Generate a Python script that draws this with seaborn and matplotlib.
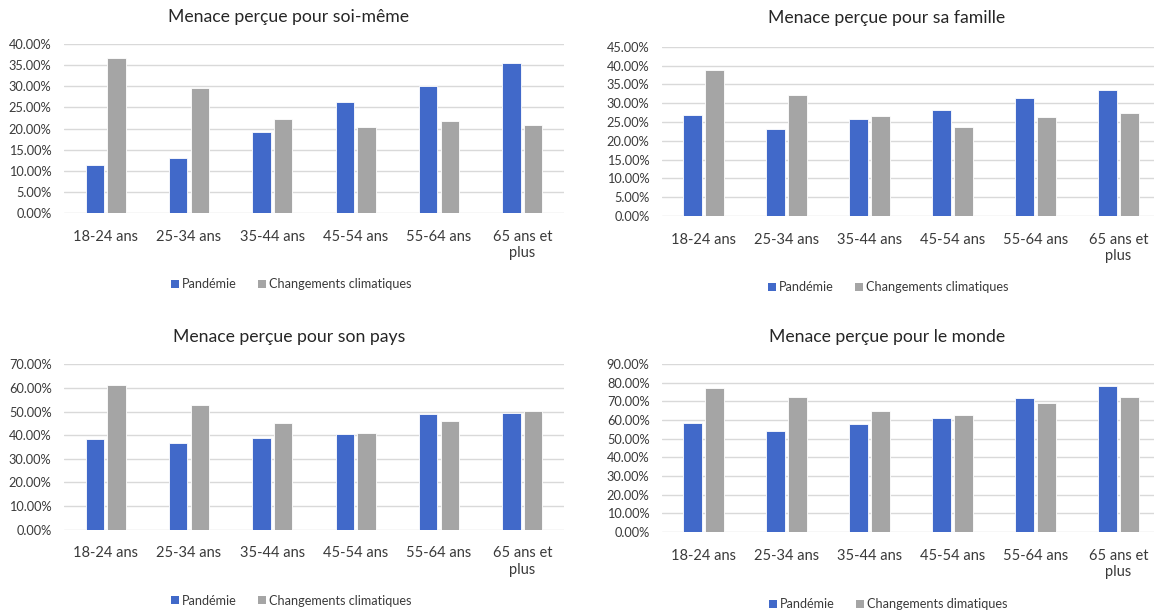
import matplotlib
matplotlib.use("Agg")
import matplotlib.pyplot as plt
import seaborn as sns
import pandas as pd
from matplotlib.ticker import FuncFormatter
from matplotlib.patches import Patch

# ---------------- data ----------------
categories = ["18-24 ans", "25-34 ans", "35-44 ans", "45-54 ans", "55-64 ans", "65 ans et\nplus"]
series_names = ["Pandémie", "Changements climatiques"]

titles = [
    "Menace perçue pour soi-même",
    "Menace perçue pour sa famille",
    "Menace perçue pour son pays",
    "Menace perçue pour le monde",
]

soi_pandemie = [11.4, 12.9, 19.2, 26.3, 30.0, 35.4]
soi_climat = [36.7, 29.5, 22.3, 20.4, 21.7, 20.8]

famille_pandemie = [26.8, 23.0, 25.8, 28.3, 31.4, 33.5]
famille_climat = [38.8, 32.1, 26.5, 23.7, 26.2, 27.3]

pays_pandemie = [38.3, 36.7, 38.9, 40.6, 49.0, 49.6]
pays_climat = [61.2, 52.9, 45.1, 41.1, 46.2, 50.1]

monde_pandemie = [58.3, 54.1, 57.6, 61.1, 71.7, 78.1]
monde_climat = [77.3, 72.3, 64.7, 62.6, 68.9, 72.3]

y_max = [40, 45, 70, 90]
y_step = [5, 5, 10, 10]

legend_labels = [
    ["Pandémie", "Changements climatiques"],
    ["Pandémie", "Changements climatiques"],
    ["Pandémie", "Changements climatiques"],
    ["Pandémie", "Changements dimatiques"],
]

panels = [
    (soi_pandemie, soi_climat),
    (famille_pandemie, famille_climat),
    (pays_pandemie, pays_climat),
    (monde_pandemie, monde_climat),
]

# ---------------- style ----------------
sns.set_theme(style="white")
plt.rcParams["font.family"] = ["Lato", "DejaVu Sans"]

BLUE = "#4169C9"
GRAY = "#A5A5A5"
TEXT = "#3A3A3A"
GRID = "#D9D9D9"
palette = {series_names[0]: BLUE, series_names[1]: GRAY}

W, H = 1154, 612
fig = plt.figure(figsize=(W / 100, H / 100), dpi=100)
fig.patch.set_facecolor("white")

# axes boxes in pixels: left, right, top(y of max), bottom(y of 0)
boxes = [
    (64, 564, 44, 213),
    (662, 1160, 46.7, 216),
    (64, 564, 364.3, 529.7),
    (662, 1160, 364, 532),
]
title_pos = [(289, 17), (887, 18), (289, 337), (887, 337)]
legend_y_px = [284, 287, 600.7, 604]

for i, (vals, box) in enumerate(zip(panels, boxes)):
    l, r, t, b = box
    ax = fig.add_axes([l / W, (H - b) / H, (r - l) / W, (b - t) / H])
    df = pd.DataFrame({
        "Âge": categories * 2,
        "Valeur": list(vals[0]) + list(vals[1]),
        "Série": [series_names[0]] * len(categories) + [series_names[1]] * len(categories),
    })
    sns.barplot(data=df, x="Âge", y="Valeur", hue="Série", palette=palette,
                width=0.52, gap=0.14, ax=ax, edgecolor="white", linewidth=0.6,
                legend=False, saturation=1)
    ax.set_ylim(0, y_max[i])
    ax.set_yticks(range(0, y_max[i] + 1, y_step[i]))
    ax.yaxis.set_major_formatter(FuncFormatter(lambda v, p: f"{v:.2f}%"))
    ax.set_xlim(-0.5, len(categories) - 0.5)
    ax.set_xlabel("")
    ax.set_ylabel("")
    ax.grid(axis="y", color=GRID, linewidth=1.0)
    ax.set_axisbelow(True)
    for s in ax.spines.values():
        s.set_visible(False)
    ax.tick_params(axis="y", length=0, pad=9, labelsize=9.2, labelcolor=TEXT)
    ax.tick_params(axis="x", length=0, pad=12, labelsize=10.5, labelcolor=TEXT)
    for lab in ax.get_xticklabels():
        lab.set_multialignment("center")
        lab.set_linespacing(1.25)

    tx, ty = title_pos[i]
    fig.text(tx / W, 1 - ty / H, titles[i], ha="center", va="center",
             fontsize=12.7, color="#262626")

    handles = [Patch(facecolor=BLUE, edgecolor="none"), Patch(facecolor=GRAY, edgecolor="none")]
    leg_y = -(legend_y_px[i] - b) / (b - t)
    ax.legend(handles, legend_labels[i], loc="center", bbox_to_anchor=(0.455, leg_y),
              ncol=2, frameon=False, fontsize=9.1, handlelength=0.6, handleheight=0.6,
              handletextpad=0.25, columnspacing=1.7, labelcolor=TEXT)

fig.savefig("out.png", dpi=100, facecolor="white")
